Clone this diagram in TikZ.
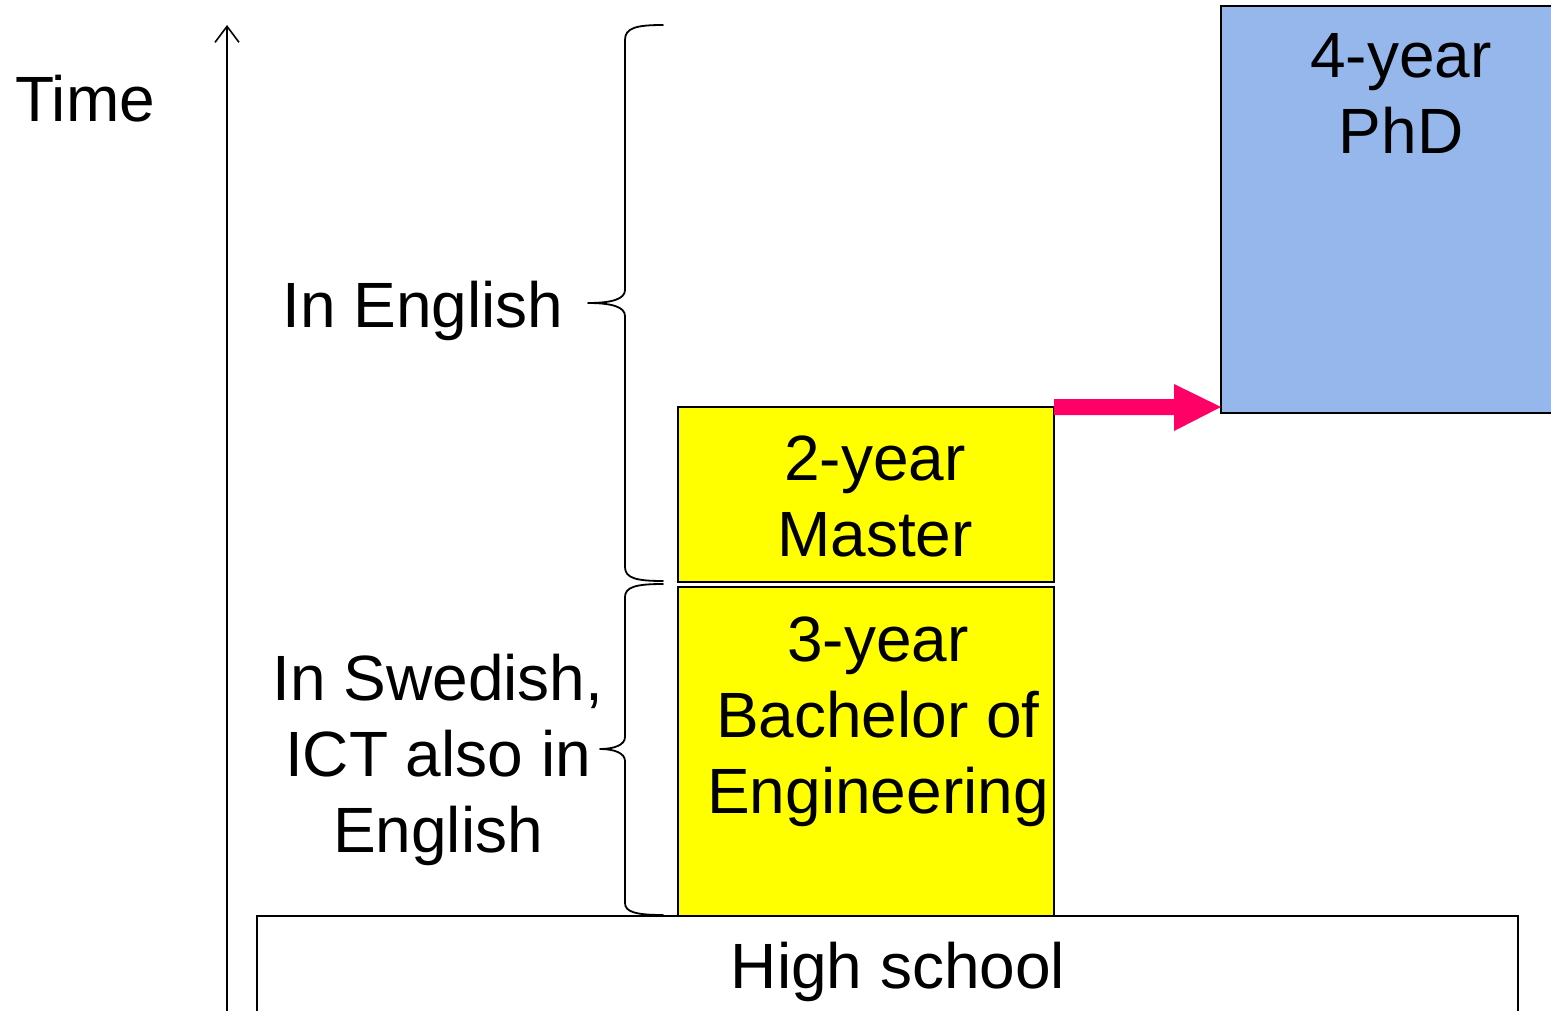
\documentclass[tikz,border=0pt]{standalone}
\usepackage{fontspec}
\setmainfont{Liberation Sans}
\usetikzlibrary{arrows.meta,calc}
\definecolor{yel}{HTML}{FFFF00}
\definecolor{phdblue}{HTML}{95B7EC}
\definecolor{arrowpink}{HTML}{FF0066}
\begin{document}
\begin{tikzpicture}[x=1pt,y=-1pt,
  box/.style={draw=black, line width=2pt, inner sep=0pt, outer sep=0pt},
  lbl/.style={font=\fontsize{64}{76}\selectfont, align=center, inner sep=0pt, anchor=base},
  bracepath/.style={draw=black, line width=1.8pt, line join=round, line cap=round}]
\useasboundingbox (0,0) rectangle (1551,1011);

% boxes
\node[box, fill=phdblue, minimum width=339pt, minimum height=407pt] (phd) at (1390.5,209.5) {};
\node[box, fill=yel, minimum width=376pt, minimum height=175pt] (master) at (866,494.5) {};
\node[box, fill=yel, minimum width=376pt, minimum height=329pt] (bach) at (866,751.5) {};
\node[box, fill=white, minimum width=1261pt, minimum height=104pt] (hs) at (887.5,968) {};

% time axis
\coordinate (axisbot) at (227,1015);
\coordinate (axistop) at (227,25);
\draw[line width=1.6pt, -{Straight Barb[length=16pt,width=24pt]}] (axisbot) -- (axistop);

% braces
\draw[bracepath] (663,25) .. controls (636,25) and (625,28) .. (625,40) -- (625,290)
  .. controls (625,299) and (612,303) .. (588,303)
  .. controls (612,303) and (625,307) .. (625,316) -- (625,567)
  .. controls (625,578) and (636,581) .. (663,581);
\draw[bracepath] (663,584) .. controls (636,584) and (625,587) .. (625,597) -- (625,737)
  .. controls (625,745) and (614,749) .. (600,749)
  .. controls (614,749) and (625,753) .. (625,761) -- (625,903)
  .. controls (625,912) and (636,915) .. (663,915);

% pink arrow master -> phd
\path (master.north east) coordinate (arrs);
\path (phd.west |- master.north east) coordinate (arrt);
\fill[arrowpink] ($(arrs)+(0,-8)$) -- ($(arrt)+(-47,-8)$) -- ($(arrt)+(-47,-23)$) -- (arrt)
  -- ($(arrt)+(-47,24)$) -- ($(arrt)+(-47,8)$) -- ($(arrs)+(0,8)$) -- cycle;

% texts (base anchor = baseline of last line)
\node[lbl] (timelbl) at (85,122) {Time};
\node[lbl] (englbl) at (423,327) {In English};
\node[lbl] (swelbl) at (438,852) {In Swedish,\\ICT also in\\English};
\node[lbl] (phdtxt) at (1401,154) {4-year\\PhD};
\node[lbl] (mastertxt) at (875,556) {2-year\\Master};
\node[lbl] (bachtxt) at (878,813) {3-year\\Bachelor of\\Engineering};
\node[lbl] (hstxt) at (898,988) {High school};
\end{tikzpicture}
\end{document}
